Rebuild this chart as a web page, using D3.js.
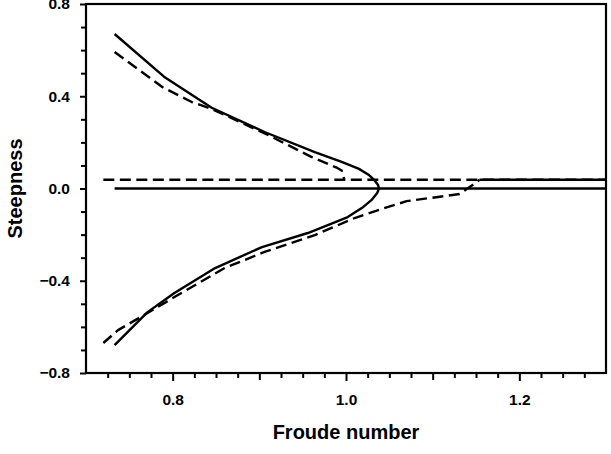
<!DOCTYPE html>
<html>
<head>
<meta charset="utf-8">
<script src="https://cdn.jsdelivr.net/npm/d3@7"></script>
<style>
  body { margin: 0; background: #fff; }
  text { font-family: 'Liberation Sans', Arial, Helvetica, sans-serif; font-weight: bold; fill: #000; }
</style>
</head>
<body>
<div class="chart"></div>
<script>
// Froude number vs steepness
var solidCurve = [
  [0.733, 0.670], [0.790, 0.485], [0.845, 0.350], [0.906, 0.245],
  [0.964, 0.158], [0.995, 0.115], [1.015, 0.085], [1.026, 0.060],
  [1.033, 0.035], [1.037, 0.015], [1.038, 0.000], [1.036, -0.020],
  [1.030, -0.048], [1.020, -0.080], [1.002, -0.124], [0.956, -0.193],
  [0.903, -0.254], [0.849, -0.345], [0.802, -0.453], [0.771, -0.536],
  [0.733, -0.679]
];
var dashedUpper = [
  [0.733, 0.592], [0.788, 0.440], [0.822, 0.375], [0.845, 0.345],
  [0.910, 0.232], [0.960, 0.137], [0.990, 0.089], [0.995, 0.078],
  [0.998, 0.040]
];
var dashedLower = [
  [0.720, -0.670], [0.737, -0.614], [0.771, -0.540], [0.806, -0.462],
  [0.860, -0.345], [0.906, -0.275], [0.964, -0.202], [1.010, -0.128],
  [1.040, -0.090], [1.070, -0.055], [1.131, -0.024], [1.146, 0.015],
  [1.154, 0.038]
];
// flat part where the dashed branch runs on top of the dashed baseline
var dashedLowerTail = [[1.154, 0.038], [1.300, 0.038]];
var solidBase = [[0.733, 0.0], [1.300, 0.0]];
var dashedBase = [[0.720, 0.038], [1.300, 0.038]];

var xLabels = [0.8, 1.0, 1.2];
var yLabels = [0.8, 0.4, 0.0, -0.4, -0.8];

var svgWidth = 611;
var svgHeight = 454;
var margin = { top: 4, right: 5, bottom: 81, left: 86 };
var width = svgWidth - margin.left - margin.right;
var height = svgHeight - margin.top - margin.bottom;

var svg = d3.select('.chart')
  .append('svg')
  .attr('width', svgWidth)
  .attr('height', svgHeight)
  .append('g')
  .attr('transform', 'translate(' + margin.left + ',' + margin.top + ')');

var x = d3.scaleLinear().domain([0.7, 1.3]).range([0, width]);
var y = d3.scaleLinear().domain([-0.8, 0.8]).range([height, 0]);

var fmt = function(d) { return d3.format('.1f')(d).replace('-', '\u2212'); };

// minor ticks
var xMinor = d3.range(0.725, 1.3, 0.025).filter(function(d) { return Math.abs(d * 10 - Math.round(d * 10)) > 1e-6; });
var xMid = [0.9, 1.1];
var yMinor = d3.range(-0.8, 0.81, 0.1).filter(function(d) { return Math.abs(d / 0.4 - Math.round(d / 0.4)) > 1e-6; });

function styleAxis(g) {
  g.select('.domain').remove();
  g.selectAll('line').attr('stroke', '#000').attr('stroke-width', 2);
}

svg.append('g')
  .attr('transform', 'translate(0,' + height + ')')
  .call(d3.axisBottom(x).tickValues(xMinor).tickSize(5).tickFormat(''))
  .call(styleAxis);

svg.append('g')
  .attr('transform', 'translate(0,' + height + ')')
  .call(d3.axisBottom(x).tickValues(xMid).tickSize(7).tickFormat(''))
  .call(styleAxis);

svg.append('g')
  .attr('class', 'x_axis')
  .attr('transform', 'translate(0,' + height + ')')
  .call(d3.axisBottom(x).tickValues(xLabels).tickSize(8).tickPadding(13).tickFormat(fmt))
  .call(styleAxis)
  .selectAll('text')
  .attr('font-size', '15.5px');

svg.append('g')
  .call(d3.axisLeft(y).tickValues(yMinor).tickSize(5).tickFormat(''))
  .call(styleAxis);

svg.append('g')
  .attr('class', 'y_axis')
  .call(d3.axisLeft(y).tickValues(yLabels).tickSize(6).tickPadding(10).tickFormat(fmt))
  .call(styleAxis)
  .selectAll('text')
  .attr('font-size', '15.5px');

// frame
svg.append('rect')
  .attr('x', 0)
  .attr('y', 0)
  .attr('width', width)
  .attr('height', height)
  .attr('fill', 'none')
  .attr('stroke', '#000')
  .attr('stroke-width', 2.2);

var line = d3.line()
  .x(function(d) { return x(d[0]); })
  .y(function(d) { return y(d[1]); });

function draw(data, dashed) {
  svg.append('path')
    .datum(data)
    .attr('d', line)
    .attr('fill', 'none')
    .attr('stroke', '#000')
    .attr('stroke-width', 2.4)
    .attr('stroke-linejoin', 'round')
    .attr('stroke-dasharray', dashed ? '11,5.5' : null);
}

draw(solidBase, false);
draw(dashedBase, true);
draw(solidCurve, false);
draw(dashedUpper, true);
draw(dashedLower, true);
draw(dashedLowerTail, false);

svg.append('text')
  .attr('x', width / 2)
  .attr('y', height + 66)
  .attr('text-anchor', 'middle')
  .attr('font-size', '20px')
  .text('Froude number');

svg.append('text')
  .attr('transform', 'rotate(-90)')
  .attr('x', -(y(0) + 0))
  .attr('y', 22 - margin.left)
  .attr('text-anchor', 'middle')
  .attr('font-size', '20px')
  .text('Steepness');
</script>
</body>
</html>
